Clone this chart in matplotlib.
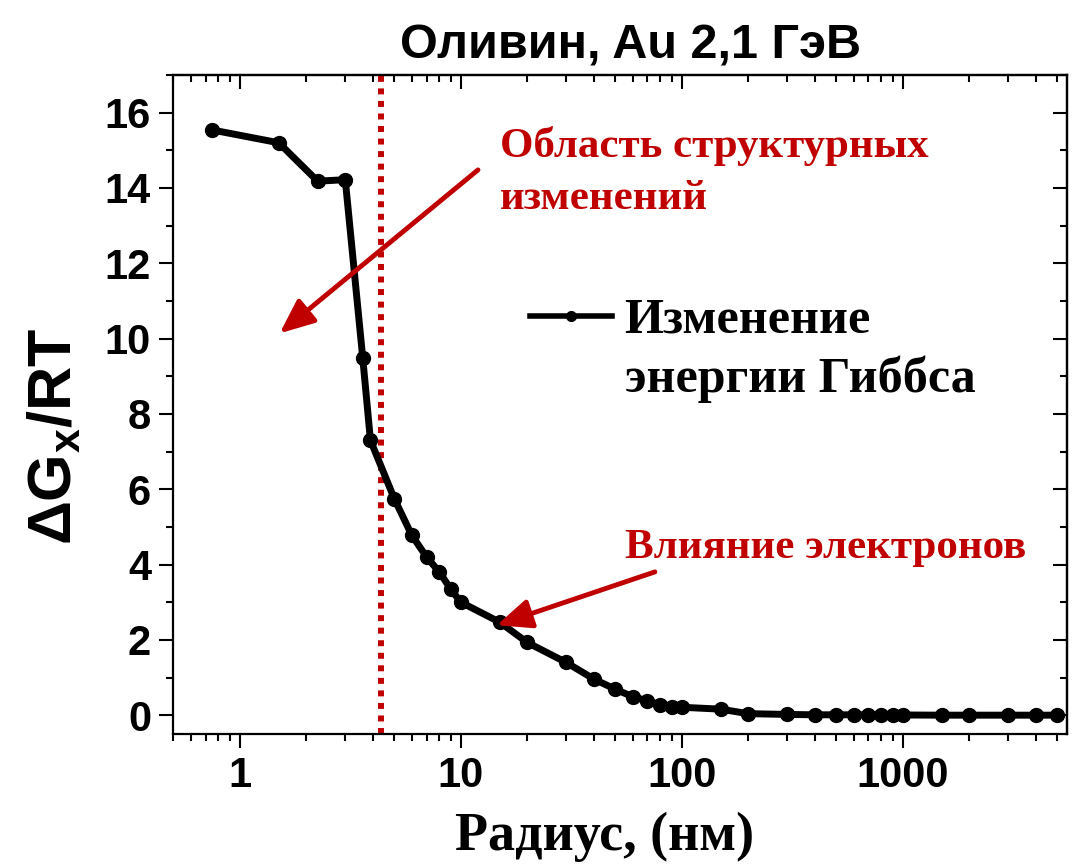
import matplotlib
matplotlib.use('Agg')
import matplotlib.pyplot as plt
from matplotlib.ticker import LogLocator, NullFormatter, MultipleLocator

# Gibbs energy change vs track radius
radius_nm = [0.75, 1.5, 2.25, 3, 3.6, 3.9, 5, 6, 7, 8, 9, 10, 15, 20, 30, 40,
             50, 60, 70, 80, 90, 100, 150, 200, 300, 400, 500, 600, 700, 800,
             900, 1000, 1500, 2000, 3000, 4000, 5000]
dg_rt = [15.54, 15.2, 14.18, 14.22, 9.48, 7.3, 5.75, 4.78, 4.2, 3.8, 3.35,
         3.0, 2.47, 1.93, 1.4, 0.96, 0.69, 0.49, 0.38, 0.27, 0.23, 0.21,
         0.16, 0.04, 0.02, 0.01, 0.01, 0.01, 0.01, 0.005, 0.005, 0.005,
         0.0, 0.0, 0.0, 0.0, 0.0]

# boundary of the structural change zone
boundary_radius = 4.34

title_text = 'Оливин, Au 2,1 ГэВ'
xlabel_text = 'Радиус, (нм)'
ylabel_text = 'ΔG$_\\mathregular{x}$/RT'
legend_lines = ['Изменение', 'энергии Гиббса']
zone_lines = ['Область структурных', 'изменений']
electron_text = 'Влияние электронов'

x_ticks = [1, 10, 100, 1000]
x_tick_labels = ['1', '10', '100', '1000']

red = '#C00000'
serif = 'Liberation Serif'

plt.rcParams['font.family'] = 'Liberation Sans'
plt.rcParams['font.weight'] = 'bold'
plt.rcParams['mathtext.default'] = 'regular'

fig = plt.figure(figsize=(10.72, 8.67), dpi=100)
ax = fig.add_axes([0.1617, 0.1534, 0.8334, 0.7601])

ax.plot(radius_nm, dg_rt, '-o', color='black', lw=5, ms=10, zorder=3)
ax.axvline(boundary_radius, color=red, lw=4.3, linestyle=(0, (1, 1.1)),
           zorder=2)

ax.set_xscale('log')
ax.set_xlim([0.5, 5530])
ax.set_ylim([-0.5, 17])

ax.set_xticks(x_ticks)
ax.set_xticklabels(x_tick_labels)
ax.xaxis.set_minor_locator(LogLocator(base=10, subs=range(2, 10)))
ax.xaxis.set_minor_formatter(NullFormatter())
ax.yaxis.set_major_locator(MultipleLocator(2))
ax.yaxis.set_minor_locator(MultipleLocator(1))

for s in ax.spines.values():
    s.set_linewidth(1.6)
ax.tick_params(which='both', direction='out', width=1.5, labelsize=30)
ax.tick_params(which='major', length=10, pad=6)
ax.tick_params(which='minor', length=5)

# mirrored ticks on top and right, pointing inward
top = ax.secondary_xaxis('top')
top.set_xticks(x_ticks)
top.xaxis.set_minor_locator(LogLocator(base=10, subs=range(2, 10)))
top.tick_params(which='both', direction='in', width=1.5,
                labeltop=False, labelbottom=False)
top.tick_params(which='major', length=10)
top.tick_params(which='minor', length=5)
top.spines['top'].set_linewidth(1.6)

right = ax.secondary_yaxis('right')
right.yaxis.set_major_locator(MultipleLocator(2))
right.yaxis.set_minor_locator(MultipleLocator(1))
right.tick_params(which='both', direction='in', width=1.5,
                  labelright=False, labelleft=False)
right.tick_params(which='major', length=10)
right.tick_params(which='minor', length=5)
right.spines['right'].set_linewidth(1.6)

ax.set_title(title_text, fontsize=35, fontweight='bold', x=0.512, pad=12)
ax.set_xlabel(xlabel_text, fontsize=39, fontweight='bold', family=serif)
ax.xaxis.set_label_coords(0.483, -0.118)
ax.set_ylabel(ylabel_text, fontsize=44, fontweight='bold')
ax.yaxis.set_label_coords(-0.100, 0.451)

# legend drawn by hand so the handle sits on the first text line
ax.plot([0.399, 0.445, 0.491], [0.634, 0.634, 0.634], '-o', color='black',
        lw=4, ms=7, markevery=[1], transform=ax.transAxes, clip_on=False)
ax.text(0.505, 0.6085, legend_lines[0], transform=ax.transAxes,
        family=serif, fontsize=36, fontweight='bold', va='baseline')
ax.text(0.505, 0.519, legend_lines[1], transform=ax.transAxes,
        family=serif, fontsize=36, fontweight='bold', va='baseline')

# red annotations
ax.text(0.366, 0.876, zone_lines[0], transform=ax.transAxes, color=red,
        family=serif, fontsize=31, fontweight='bold', va='baseline')
ax.text(0.366, 0.797, zone_lines[1], transform=ax.transAxes, color=red,
        family=serif, fontsize=31, fontweight='bold', va='baseline')
ax.text(0.505, 0.267, electron_text, transform=ax.transAxes, color=red,
        family=serif, fontsize=31, fontweight='bold', va='baseline')

arrow = dict(arrowstyle='-|>,head_length=0.7,head_width=0.3', color=red,
             lw=3.5, mutation_scale=30, shrinkA=0, shrinkB=0)
ax.annotate('', xy=(0.119, 0.608), xytext=(0.341, 0.856),
            xycoords='axes fraction', arrowprops=arrow)
ax.annotate('', xy=(0.362, 0.165), xytext=(0.539, 0.246),
            xycoords='axes fraction', arrowprops=arrow)

fig.savefig('out.png', dpi=100)
plt.close(fig)
